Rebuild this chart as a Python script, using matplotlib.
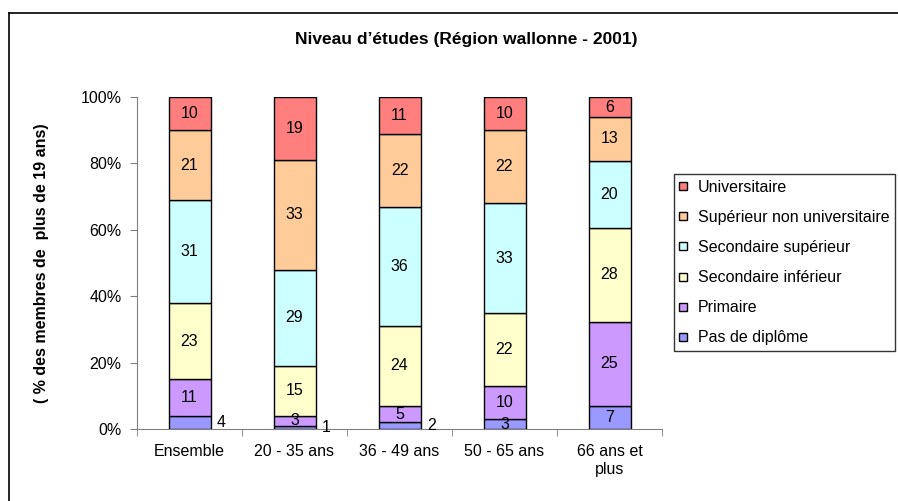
import numpy as np
import matplotlib
matplotlib.use("Agg")
from matplotlib import pyplot as plt
from matplotlib.lines import Line2D

plt.rcParams['font.family'] = ['Liberation Sans', 'DejaVu Sans']

categories = ["Ensemble", "20 - 35 ans", "36 - 49 ans", "50 - 65 ans", "66 ans et\nplus"]
series_names = ["Pas de diplôme", "Primaire", "Secondaire inférieur",
                "Secondaire supérieur", "Supérieur non universitaire", "Universitaire"]
pas_de_diplome = [4, 1, 2, 3, 7]
primaire = [11, 3, 5, 10, 25]
secondaire_inf = [23, 15, 24, 22, 28]
secondaire_sup = [31, 29, 36, 33, 20]
superieur_non_univ = [21, 33, 22, 22, 13]
universitaire = [10, 19, 11, 10, 6]

colors = ["#9999FF", "#CC99FF", "#FFFFCC", "#CCFFFF", "#FFCC99", "#FF7F7F"]
# labels drawn beside the bar instead of inside (series index, category index)
outside = {(0, 0), (0, 1), (0, 2)}
fs = 11.5

data = np.array([pas_de_diplome, primaire, secondaire_inf,
                 secondaire_sup, superieur_non_univ, universitaire], dtype=float)
pct = data / data.sum(axis=0) * 100

fig = plt.figure(figsize=(8.98, 5.01), dpi=100)
W, H = 898, 501
ax = fig.add_axes([137 / W, 1 - 429 / H, 525 / W, 332 / H])

x = np.arange(len(categories))
bottom = np.zeros(len(categories))
for i, name in enumerate(series_names):
    ax.bar(x, pct[i], 0.4, bottom=bottom, color=colors[i], edgecolor="black", linewidth=1)
    for j in range(len(categories)):
        yc = bottom[j] + pct[i][j] / 2
        if (i, j) in outside:
            ax.text(x[j] + 0.26, yc, f"{int(data[i][j])}", ha="left", va="center", fontsize=fs)
        else:
            ax.text(x[j], yc, f"{int(data[i][j])}", ha="center", va="center", fontsize=fs)
    bottom += pct[i]

ax.set_xlim(-0.5, len(categories) - 0.5)
ax.set_ylim(0, 100)
ax.set_yticks(np.arange(0, 101, 20))
ax.set_yticklabels([f"{v}%" for v in range(0, 101, 20)], fontsize=fs)
ax.set_xticks(x)
ax.set_xticklabels(categories, fontsize=fs)
ax.set_xticks(np.arange(-0.5, len(categories), 1), minor=True)
ax.tick_params(axis="x", which="major", length=0, pad=11)
ax.tick_params(axis="x", which="minor", length=5, color="#808080")
ax.tick_params(axis="y", length=5, color="#808080", pad=6)
for s in ["top", "right"]:
    ax.spines[s].set_visible(False)
ax.spines["left"].set_color("#808080")
ax.spines["bottom"].set_color("#808080")

ax.set_ylabel("( % des membres de  plus de 19 ans)", fontsize=fs, fontweight="bold", labelpad=23)
fig.text(466 / W, 1 - 39 / H, "Niveau d\u2019études (Région wallonne - 2001)",
         ha="center", va="center", fontsize=12.5, fontweight="bold")

# legend, top series first
handles = []
for i in range(len(series_names) - 1, -1, -1):
    handles.append(Line2D([], [], marker="s", linestyle="none", markersize=6,
                          markerfacecolor=colors[i], markeredgecolor="black",
                          label=series_names[i]))
leg = fig.legend(handles=handles, loc="upper left", bbox_to_anchor=(674 / W, 1 - 174 / H),
                 frameon=True, fancybox=False, edgecolor="black", fontsize=fs,
                 handletextpad=0.74, labelspacing=0.95, borderaxespad=0, handlelength=0.4,
                 borderpad=0.35)
leg.get_frame().set_linewidth(1)

# outer chart frame
fig.add_artist(Line2D([9 / W, 9 / W], [0, 1 - 13 / H], color="black", linewidth=1.2,
                      transform=fig.transFigure))
fig.add_artist(Line2D([9 / W, 1], [1 - 13 / H, 1 - 13 / H], color="black", linewidth=1.2,
                      transform=fig.transFigure))

fig.savefig("out.png", dpi=100)
